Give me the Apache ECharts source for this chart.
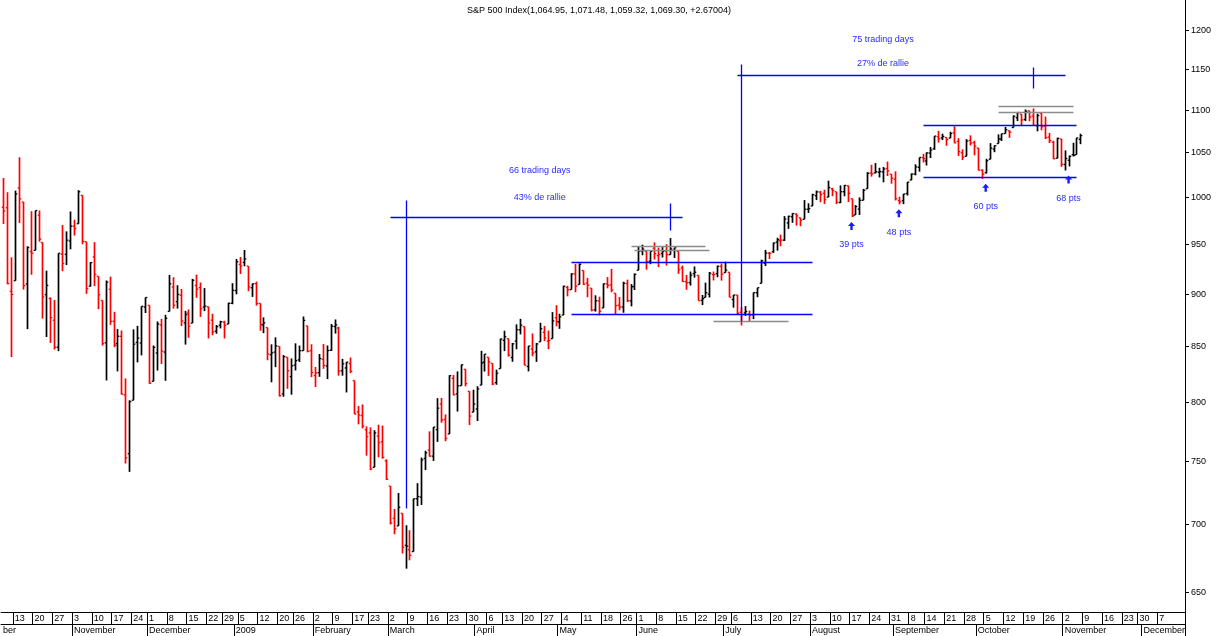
<!DOCTYPE html>
<html><head><meta charset="utf-8">
<script src="https://cdn.jsdelivr.net/npm/echarts@6/dist/echarts.min.js"></script>
<style>html,body{margin:0;padding:0;background:#fff}#c{width:1220px;height:636px}</style>
</head><body><div id="c"></div>
<script>
// ---------- DATA ----------
const firstDate = '2008-10-08';
const prevClose0 = 996.23;
const holidays = ['2008-11-27','2008-12-25','2009-01-01','2009-01-19','2009-02-16','2009-04-10','2009-05-25','2009-07-03','2009-09-07','2009-11-26'];
const opens = [988.91,988.42,902.31,912.75,1009.97,994.60,909.53,942.29,943.51,980.40,951.67,899.08,895.22,874.28,848.92,939.51,939.38,953.11,
968.67,971.31,1001.84,952.40,907.44,936.75,917.15,893.39,853.13,904.36,873.23,852.34,859.03,805.87,755.84,801.20,853.40,852.90,886.89,
888.61,817.94,843.60,869.75,844.43,882.71,906.48,892.17,898.35,871.79,881.07,871.53,908.16,905.98,886.96,887.20,874.31,863.87,869.51,872.37,870.58,890.59,
902.99,929.17,931.17,927.45,905.73,909.91,890.40,869.79,867.28,841.99,844.45,849.64,806.77,839.74,822.16,832.50,837.30,845.73,868.89,845.69,
823.09,825.69,837.77,831.75,846.09,868.24,866.87,827.41,829.91,833.95,818.61,791.06,787.91,775.87,773.25,744.69,770.64,765.76,749.93,
729.57,704.44,698.60,708.27,684.04,680.76,679.28,719.59,720.89,751.97,758.84,753.88,776.01,797.92,784.58,772.31,820.60,806.81,814.06,828.68,809.07,790.88,
793.59,814.53,835.13,839.75,834.12,816.76,829.29,855.33,856.88,839.44,854.54,865.18,868.27,831.25,847.26,844.62,853.91,862.82,854.48,856.85,876.59,
872.74,879.21,906.10,903.95,919.58,909.03,922.99,910.52,905.40,884.24,892.76,886.07,909.67,908.62,900.42,888.68,887.00,909.95,892.96,907.02,
923.26,942.87,942.51,932.49,945.67,938.12,940.35,942.73,939.04,943.44,942.45,925.60,911.89,910.86,919.96,918.13,893.46,896.31,899.45,918.84,919.86,927.15,
920.82,921.24,894.27,898.60,881.90,881.28,880.03,879.57,900.77,910.15,930.17,940.56,942.07,951.97,953.40,954.07,972.16,978.63,981.48,977.66,976.01,986.80,
990.22,1001.41,1005.41,1004.06,999.83,1008.89,1005.77,994.00,1005.86,1012.23,998.18,980.62,986.88,996.41,1009.06,1026.59,1026.63,1027.35,1027.81,1031.62,1025.21,
1019.52,996.07,996.12,1003.84,1018.67,1025.36,1032.99,1043.92,1040.15,1049.03,1053.99,1067.87,1066.60,1067.14,1066.35,1072.69,1062.56,1049.48,1045.38,1063.69,1061.02,
1054.91,1029.71,1026.87,1042.02,1053.65,1060.03,1065.28,1071.63,1074.96,1078.68,1090.36,1094.67,1088.22,1098.64,1092.44,1080.96,1095.62,1080.36,1067.54,1061.51,1043.19,1065.41,
1036.18,1040.92,1047.30,1047.30,1064.95];
const highs = [1021.06,1005.25,936.36,1006.93,1044.31,994.60,947.71,984.64,985.40,985.44,951.67,922.83,896.30,893.78,940.51,969.97,963.23,984.38,
975.57,1007.51,1001.84,952.40,931.46,951.95,917.15,893.39,913.01,916.88,882.29,865.90,864.57,820.52,801.20,865.60,868.94,887.68,896.25,
888.61,850.54,873.12,875.60,879.42,918.57,916.26,908.27,904.63,883.24,884.63,914.66,918.85,911.02,905.47,887.37,880.44,869.79,873.74,873.70,891.12,910.32,
934.73,936.63,943.85,927.45,910.00,911.93,890.40,877.02,867.28,851.59,858.13,849.64,841.72,839.74,838.61,852.53,850.45,877.86,868.89,851.66,
830.78,842.60,851.85,850.55,870.75,875.01,868.05,838.22,835.48,839.43,818.61,796.17,797.58,778.69,777.85,775.49,780.12,779.42,751.27,
729.57,711.67,724.12,708.27,699.09,695.27,719.60,731.92,752.63,758.29,774.53,778.12,803.04,803.24,788.91,823.37,823.65,826.78,832.98,828.68,809.07,810.48,
813.62,845.61,842.50,839.75,834.12,828.42,856.91,864.31,856.88,852.93,870.35,875.63,868.27,850.09,861.78,852.87,871.80,868.83,864.48,882.06,888.70,
880.48,907.85,907.70,920.28,929.58,930.17,922.99,915.57,905.40,898.36,896.97,910.00,916.39,924.60,900.42,896.65,911.76,913.84,909.45,920.02,
947.77,949.38,942.51,942.47,951.69,946.33,946.92,949.77,956.23,946.30,942.45,928.00,918.44,921.93,927.09,918.13,898.69,910.85,921.42,922.00,927.99,930.01,
931.92,921.24,898.72,898.60,886.80,887.86,883.57,901.05,905.84,933.95,943.96,941.89,951.62,956.53,959.83,979.42,979.79,982.49,982.35,977.76,996.68,993.18,
1003.61,1007.12,1006.64,1008.00,1018.00,1010.12,1005.77,1012.78,1013.14,1012.60,998.18,991.20,999.61,1008.92,1027.59,1035.82,1037.75,1032.47,1033.33,1039.47,1025.21,
1028.45,1000.34,1003.43,1016.48,1026.07,1036.34,1044.14,1048.18,1049.74,1056.04,1068.76,1074.77,1071.52,1067.28,1073.81,1080.15,1066.29,1053.47,1065.13,1069.62,1063.40,
1054.91,1030.60,1042.58,1060.55,1058.02,1070.67,1071.51,1079.46,1075.30,1093.17,1096.56,1094.67,1100.17,1098.64,1101.36,1095.21,1095.83,1091.75,1072.48,1063.26,1066.83,1065.41,
1052.18,1046.36,1061.00,1066.65,1071.48];
const lows = [970.97,909.19,839.80,912.75,972.07,903.99,865.83,918.74,943.51,952.47,875.81,858.44,852.85,846.75,845.27,922.26,928.50,944.59,
958.82,971.31,949.86,899.73,906.90,907.47,884.90,850.48,818.69,869.88,848.98,826.84,806.18,747.78,741.02,801.20,834.99,841.37,881.21,
815.69,817.94,827.60,833.60,818.41,882.71,885.38,885.45,868.73,851.35,857.72,871.53,895.94,877.44,883.02,857.09,860.10,861.44,866.52,857.07,870.58,889.67,
899.35,919.53,927.28,902.37,896.81,888.31,864.32,862.02,836.93,817.04,830.66,804.47,804.30,811.29,806.07,827.69,835.40,845.73,844.15,821.67,
812.87,821.98,829.18,819.91,845.42,861.65,822.99,822.98,808.06,825.21,789.17,780.43,777.03,754.25,742.37,744.69,752.89,751.75,734.52,
699.70,692.30,698.60,677.93,666.79,672.88,679.28,713.85,714.76,742.46,753.37,749.93,765.64,781.82,766.20,772.31,805.48,791.37,814.06,813.43,779.81,790.88,
783.32,814.53,826.70,822.79,814.53,814.84,829.29,845.35,840.25,835.58,847.04,860.87,832.39,826.83,840.57,835.45,853.91,854.65,847.12,856.85,868.51,
866.10,879.21,897.34,903.95,901.36,909.03,908.68,896.46,882.80,882.52,878.94,886.07,905.22,901.37,879.61,883.75,881.46,891.87,887.60,903.56,
923.26,938.46,923.85,929.32,934.13,926.44,936.15,927.97,939.04,935.66,919.65,911.60,903.78,907.94,915.80,893.04,888.86,896.31,896.27,913.03,916.18,912.86,
920.82,896.42,886.36,879.93,869.32,878.45,872.81,875.32,896.50,910.15,927.45,934.65,940.99,943.22,947.75,953.27,965.95,972.29,969.35,968.65,976.01,982.85,
990.22,996.68,994.31,992.49,999.83,1000.99,992.40,993.36,1000.82,994.60,978.51,980.62,980.62,996.39,1009.06,1022.48,1026.21,1021.57,1016.20,1023.13,1014.62,
996.28,991.97,992.25,1001.65,1018.67,1023.97,1028.04,1038.40,1035.00,1043.42,1052.87,1061.20,1064.27,1057.46,1066.35,1060.39,1045.85,1041.17,1045.38,1057.83,1046.47,
1029.45,1019.95,1025.92,1042.02,1050.10,1060.03,1063.00,1071.63,1066.71,1078.68,1086.41,1081.53,1086.48,1086.16,1080.77,1074.31,1075.49,1065.23,1060.62,1042.19,1043.19,1033.38,
1029.38,1033.94,1045.15,1047.30,1059.32];
const closes = [984.94,909.92,899.22,1003.35,998.01,907.84,946.43,940.55,985.40,955.05,896.78,908.11,876.77,848.92,940.51,930.09,954.09,968.75,
966.30,1005.75,952.77,904.88,930.99,919.21,898.95,852.30,911.29,873.29,850.75,859.12,806.58,752.44,800.03,851.81,857.39,887.68,896.24,
816.21,848.81,870.74,845.22,876.07,909.70,888.67,899.24,873.59,879.73,868.57,913.18,904.42,885.28,887.88,871.63,863.16,868.15,872.80,869.42,890.64,903.25,
931.80,927.45,934.70,906.65,909.73,890.35,870.26,871.79,842.62,843.74,850.12,805.22,840.24,827.50,831.95,836.57,845.71,874.09,845.14,825.88,
825.44,838.51,832.23,845.85,868.60,869.89,827.16,833.74,835.19,826.84,789.17,788.42,778.94,770.05,743.33,773.14,764.90,752.83,735.09,
700.82,696.33,712.87,682.55,683.38,676.53,719.60,721.36,750.74,756.55,753.89,778.12,794.35,784.04,768.54,822.92,806.12,813.88,832.86,815.94,787.53,797.87,
811.08,834.38,842.50,835.48,815.55,825.16,856.56,858.73,841.50,852.06,865.30,869.60,832.39,850.08,843.55,851.92,866.23,857.51,855.16,873.64,872.81,
877.52,907.24,903.80,919.53,907.39,929.23,909.24,908.35,883.92,893.07,882.88,909.71,908.13,903.47,888.33,887.00,910.33,893.06,906.83,919.14,
942.87,944.74,931.76,942.46,940.09,939.14,942.43,939.15,944.89,946.21,923.72,911.97,910.71,918.37,921.23,893.04,895.10,900.94,920.26,918.90,927.23,919.32,
923.33,896.42,898.72,881.03,879.56,882.68,879.13,901.05,905.84,932.68,940.74,940.38,951.13,954.58,954.07,976.29,979.26,982.18,979.62,975.15,986.75,987.48,
1002.63,1005.65,1002.72,997.08,1010.48,1007.10,994.35,1005.81,1012.73,1004.09,979.73,989.67,996.46,1007.37,1026.13,1025.57,1028.00,1028.12,1030.98,1028.93,1020.62,
998.04,994.75,1003.24,1016.40,1025.39,1033.37,1044.14,1042.73,1049.34,1052.63,1068.76,1065.49,1068.30,1064.66,1071.66,1060.87,1050.78,1044.38,1062.98,1060.61,1057.08,
1029.85,1025.21,1040.46,1054.72,1057.58,1065.48,1071.49,1076.19,1073.19,1092.02,1096.56,1087.68,1097.91,1091.06,1081.40,1092.91,1079.60,1066.95,1063.41,1042.63,1066.11,1036.19,
1042.88,1045.41,1046.50,1066.63,1069.30];
const yTicks = [650,700,750,800,850,900,950,1000,1050,1100,1150,1200];
const monthNames = ['2009','February','March','April','May','June','July','August','September','October','November','December'];
const monthNames2008 = {9:'ber',10:'November',11:'December'};
const titleText = 'S&P 500 Index(1,064.95, 1,071.48, 1,059.32, 1,069.30, +2.67004)';
// annotations: [date1, price1, date2, price2]
const blueSegments = [
 ['2009-03-06',712,'2009-03-06',997],['2009-03-02',978,'2009-06-16',978],['2009-06-11',965,'2009-06-11',993],
 ['2009-07-08',874,'2009-07-08',1156],['2009-07-07',1142,'2009-11-02',1142],['2009-10-21',1126,'2009-10-21',1152],
 ['2009-05-06',931.5,'2009-08-03',931.5],['2009-05-06',880.2,'2009-08-03',880.2],
 ['2009-09-11',1081.6,'2009-11-05',1081.6],['2009-09-11',1022.1,'2009-11-05',1022.1]];
const graySegments = [
 ['2009-05-28',948,'2009-06-24',948],['2009-05-29',943.9,'2009-06-25',943.9],['2009-06-26',873.6,'2009-07-24',873.6],
 ['2009-10-08',1104.3,'2009-11-04',1104.3],['2009-10-08',1097.2,'2009-11-04',1097.2]];
const blueTexts = [['2009-04-24',1028.8,'66 trading days'],['2009-04-24',1000,'43% de rallie'],
 ['2009-08-27',1188,'75 trading days'],['2009-08-27',1157,'27% de rallie']];
const arrows = [['2009-08-17',978.5,'39 pts'],['2009-09-02',992.2,'48 pts'],['2009-10-05',1020,'60 pts'],['2009-11-03',1029.4,'68 pts']];

// ---------- BUILD ----------
const NSLOTS = 300, SLOT = 3.95;
const dates = [];
{ let d = new Date(Date.UTC(2008,9,8));
  while (dates.length < NSLOTS) { const wd = d.getUTCDay(); const s = d.toISOString().slice(0,10);
    if (wd>0 && wd<6 && !holidays.includes(s)) dates.push(s); d.setUTCDate(d.getUTCDate()+1); } }
const i0 = dates.indexOf(firstDate);
const gridLeft = 0;
const gridRight = 1220 - (gridLeft + NSLOTS*SLOT);
const L = Math.log;
const ohlc = closes.map((c,k)=>{ const pc = k===0?prevClose0:closes[k-1];
  return [i0+k, L(opens[k]), L(highs[k]), L(lows[k]), L(c), c<pc?1:0]; });
const idx = s => dates.indexOf(s);
const isWeekStart = i => i>0 && i<NSLOTS-2 && new Date(dates[i]).getUTCDay() <= new Date(dates[i-1]).getUTCDay();
const isMonthStart = i => i===0 || dates[i].slice(5,7) !== dates[i-1].slice(5,7);
const FONT = 'Arial, "Liberation Sans", sans-serif';

const chart = echarts.init(document.getElementById('c'), null, {renderer:'canvas'});
chart.setOption({
  animation:false, backgroundColor:'#fff',
  title:{text:titleText, left:462, top:1, textStyle:{fontSize:9, fontWeight:'normal', color:'#000', fontFamily:FONT}},
  grid:{left:gridLeft, right:gridRight, top:0, bottom:24, show:false},
  xAxis:[
   {type:'category', data:dates, boundaryGap:true, position:'bottom',
    axisLine:{lineStyle:{color:'#000'}},
    axisTick:{show:true, length:12, interval:(i)=>isWeekStart(i), lineStyle:{color:'#000'}},
    axisLabel:{interval:(i)=>isWeekStart(i), formatter:v=>String(+v.slice(8,10)), align:'left', margin:2,
      fontSize:9, color:'#000', fontFamily:FONT, hideOverlap:false}},
   {type:'category', data:dates, boundaryGap:true, position:'bottom', offset:12,
    axisLine:{lineStyle:{color:'#000'}},
    axisTick:{show:true, length:12, interval:(i)=>i>0&&isMonthStart(i), lineStyle:{color:'#000'}},
    axisLabel:{interval:(i)=>isMonthStart(i), formatter:v=>{const y=+v.slice(0,4), m=+v.slice(5,7)-1; return y===2008?monthNames2008[m]:monthNames[m];},
      align:'left', margin:2, fontSize:9, color:'#000', fontFamily:FONT}}
  ],
  yAxis:{type:'value', position:'right', min:L(636), max:L(1239.7), axisLabel:{show:false}, splitLine:{show:false},
    axisTick:{show:false}, axisLine:{show:true, lineStyle:{color:'#000'}}},
  series:[
   {type:'custom', data:ohlc, encode:{x:0,y:[1,2,3,4]}, clip:true,
    renderItem:(p,api)=>{
      const i=api.value(0), col=api.value(5)?'#ff0000':'#000000';
      const hi=api.coord([i,api.value(2)]), lo=api.coord([i,api.value(3)]);
      const op=api.coord([i,api.value(1)]), cl=api.coord([i,api.value(4)]);
      const x=Math.round(hi[0])+0.5, st={stroke:col, lineWidth:1.7};
      return {type:'group', children:[
        {type:'line', shape:{x1:x,y1:hi[1],x2:x,y2:lo[1]}, style:st},
        {type:'line', shape:{x1:x-1.8,y1:op[1],x2:x,y2:op[1]}, style:{stroke:col,lineWidth:1.3}},
        {type:'line', shape:{x1:x,y1:cl[1],x2:x+1.8,y2:cl[1]}, style:{stroke:col,lineWidth:1.3}}]};
    }},
   {type:'custom', data:[0], clip:false, silent:true,
    renderItem:(p,api)=>{
      const ch=[];
      const seg=(a,col,w)=>{const p1=api.coord([idx(a[0]),L(a[1])]), p2=api.coord([idx(a[2]),L(a[3])]);
        ch.push({type:'line', shape:{x1:Math.round(p1[0])+0.5,y1:Math.round(p1[1])+0.5,x2:Math.round(p2[0])+0.5,y2:Math.round(p2[1])+0.5}, style:{stroke:col,lineWidth:w}});};
      graySegments.forEach(a=>seg(a,'#8c8c8c',1.5));
      blueSegments.forEach(a=>seg(a,'#0000ff',1.3));
      blueTexts.forEach(t=>{const q=api.coord([idx(t[0]),L(t[1])]);
        ch.push({type:'text', x:q[0], y:q[1], style:{text:t[2], fill:'#2a2aff', font:'9px '+FONT, textAlign:'center', textVerticalAlign:'middle'}});});
      arrows.forEach(t=>{const q=api.coord([idx(t[0]),L(t[1])]); const x=q[0], y=q[1]+5;
        ch.push({type:'polygon', shape:{points:[[x,y],[x+3.5,y+4],[x+1.2,y+4],[x+1.2,y+8],[x-1.2,y+8],[x-1.2,y+4],[x-3.5,y+4]]}, style:{fill:'#1a1aff'}});
        ch.push({type:'text', x:x, y:y+23, style:{text:t[2], fill:'#2a2aff', font:'9px '+FONT, textAlign:'center', textVerticalAlign:'middle'}});});
      const xr = api.coord([NSLOTS-1,L(1000)])[0] + SLOT/2;
      yTicks.forEach(v=>{const q=api.coord([0,L(v)]); const y=Math.round(q[1])+0.5;
        ch.push({type:'line', shape:{x1:xr,y1:y,x2:xr+4,y2:y}, style:{stroke:'#000',lineWidth:1}});
        ch.push({type:'text', x:xr+6, y:y, style:{text:String(v), fill:'#000', font:'9px '+FONT, textAlign:'left', textVerticalAlign:'middle'}});});
      return {type:'group', children:ch};
    }}
  ]
});
</script></body></html>
